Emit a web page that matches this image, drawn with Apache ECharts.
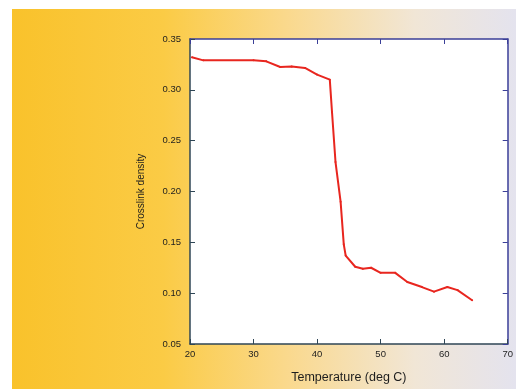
<!DOCTYPE html>
<html>
<head>
<meta charset="utf-8">
<script src="https://cdn.jsdelivr.net/npm/echarts@6/dist/echarts.min.js"></script>
<style>
  html, body { margin: 0; padding: 0; background: #ffffff; }
  #chart { width: 516px; height: 389px; }
</style>
</head>
<body>
<div id="chart"></div>
<script>
// Temperature sweep (deg C) and the measured density at each step
const temperature = [20.3, 22.1, 30.0, 32.0, 34.2, 36.0, 38.1, 40.0, 42.0, 42.35, 42.9, 43.7, 44.2, 44.5, 46.0, 47.2, 48.5, 50.0, 52.3, 54.2, 56.5, 58.4, 60.5, 62.1, 64.4];
const density     = [0.332, 0.329, 0.329, 0.328, 0.3225, 0.323, 0.3215, 0.315, 0.310, 0.278, 0.229, 0.190, 0.148, 0.137, 0.126, 0.124, 0.125, 0.120, 0.120, 0.111, 0.106, 0.1015, 0.106, 0.103, 0.093];
const xTicks = [20, 30, 40, 50, 60, 70];
const yTicks = [0.05, 0.10, 0.15, 0.20, 0.25, 0.30, 0.35];

const points = temperature.map((t, i) => [t, density[i]]);
const chart = echarts.init(document.getElementById('chart'), null, { renderer: 'canvas' });

const labelFont = { fontFamily: 'Liberation Sans, Arial, sans-serif', color: '#1e1e1e' };
const frameDark = '#2f4656';
const frameBlue = '#3b3f98';

chart.setOption({
  backgroundColor: '#ffffff',
  animation: false,
  graphic: [{
    type: 'rect',
    z: -10,
    silent: true,
    shape: { x: 12, y: 9, width: 504, height: 380 },
    style: {
      fill: new echarts.graphic.LinearGradient(0, 0, 1, 0, [
        { offset: 0, color: '#f9c22b' },
        { offset: 0.3, color: '#fbcb45' },
        { offset: 0.55, color: '#fad98e' },
        { offset: 0.8, color: '#f1e6d6' },
        { offset: 1, color: '#e4e3ee' }
      ])
    }
  }],
  grid: { left: 190, right: 6, top: 39, bottom: 41, backgroundColor: '#ffffff', show: true, borderWidth: 0 },
  xAxis: [{
    type: 'value',
    min: xTicks[0], max: xTicks[xTicks.length - 1], interval: 10,
    name: 'Temperature (deg C)',
    nameLocation: 'middle', nameGap: 27,
    nameTextStyle: Object.assign({ fontSize: 12.5 }, labelFont),
    axisLine: { show: true, lineStyle: { color: frameDark, width: 1.5 } },
    axisTick: { inside: true, length: 5, lineStyle: { color: frameDark } },
    axisLabel: Object.assign({ fontSize: 9.5, margin: 5 }, labelFont),
    splitLine: { show: false }
  }, {
    type: 'value', position: 'top',
    min: xTicks[0], max: xTicks[xTicks.length - 1], interval: 10,
    axisLine: { show: true, lineStyle: { color: frameBlue, width: 1.5 } },
    axisTick: { inside: true, length: 5, lineStyle: { color: frameBlue } },
    axisLabel: { show: false },
    splitLine: { show: false }
  }],
  yAxis: [{
    type: 'value',
    min: yTicks[0], max: yTicks[yTicks.length - 1], interval: 0.05,
    name: 'Crosslink density',
    nameLocation: 'middle', nameGap: 44,
    nameTextStyle: Object.assign({ fontSize: 10 }, labelFont),
    axisLine: { show: true, lineStyle: { color: frameDark, width: 1.5 } },
    axisTick: { inside: true, length: 5, lineStyle: { color: frameDark } },
    axisLabel: Object.assign({ fontSize: 9.5, margin: 9, formatter: v => v.toFixed(2) }, labelFont),
    splitLine: { show: false }
  }, {
    type: 'value', position: 'right',
    min: yTicks[0], max: yTicks[yTicks.length - 1], interval: 0.05,
    axisLine: { show: true, lineStyle: { color: frameBlue, width: 1.5 } },
    axisTick: { inside: true, length: 5, lineStyle: { color: frameBlue } },
    axisLabel: { show: false },
    splitLine: { show: false }
  }],
  series: [{
    type: 'line',
    data: points,
    xAxisIndex: 0, yAxisIndex: 0,
    symbol: 'circle', symbolSize: 2,
    itemStyle: { color: '#e8261f' },
    lineStyle: { color: '#e8261f', width: 2 },
    smooth: false
  }]
});
</script>
</body>
</html>
